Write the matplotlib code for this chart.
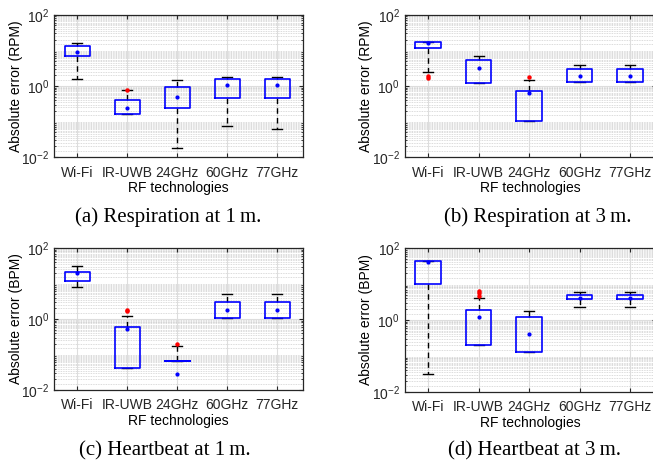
import matplotlib
matplotlib.use('Agg')
from matplotlib import pyplot as plt
from matplotlib.ticker import LogLocator, NullFormatter
import numpy as np

plt.rcParams['font.family'] = ['Liberation Sans', 'DejaVu Sans']
plt.rcParams['mathtext.default'] = 'regular'

techs = ['Wi-Fi', 'IR-UWB', '24GHz', '60GHz', '77GHz']

# per panel: whisker low, q1, mean dot, q3, whisker high, outliers
resp1_lo = [1.56, 0.168, 0.0176, 0.073, 0.062]
resp1_q1 = [7.1, 0.168, 0.247, 0.47, 0.47]
resp1_mean = [9.0, 0.24, 0.49, 1.08, 1.08]
resp1_q3 = [13.3, 0.40, 0.95, 1.58, 1.58]
resp1_hi = [15.9, 0.75, 1.46, 1.78, 1.78]
resp1_out = [[], [0.79], [], [], []]

resp3_lo = [2.4, 1.23, 0.103, 1.28, 1.28]
resp3_q1 = [11.3, 1.23, 0.103, 1.28, 1.28]
resp3_mean = [15.6, 3.1, 0.62, 1.93, 1.93]
resp3_q3 = [17.4, 5.43, 0.70, 3.04, 3.04]
resp3_hi = [17.4, 7.04, 1.43, 3.94, 3.94]
resp3_out = [[1.85, 1.70], [], [1.77], [], []]

heart1_lo = [7.76, 0.041, 0.067, 1.10, 1.10]
heart1_q1 = [12.0, 0.041, 0.067, 1.10, 1.10]
heart1_mean = [19.7, 0.51, 0.028, 1.85, 1.85]
heart1_q3 = [21.5, 0.60, 0.067, 2.92, 2.92]
heart1_hi = [30.3, 1.23, 0.175, 4.92, 4.92]
heart1_out = [[], [1.81, 1.66], [0.20], [], []]

heart3_lo = [0.032, 0.206, 0.132, 2.35, 2.35]
heart3_q1 = [9.8, 0.206, 0.132, 3.83, 3.83]
heart3_mean = [40.0, 1.21, 0.41, 4.08, 4.08]
heart3_q3 = [42.6, 1.94, 1.21, 5.06, 5.06]
heart3_hi = [44.5, 4.17, 1.74, 5.87, 5.87]
heart3_out = [[], [6.25, 5.6, 4.54], [], [], []]

panels = [
    (resp1_lo, resp1_q1, resp1_mean, resp1_q3, resp1_hi, resp1_out,
     'Absolute error (RPM)', '(a) Respiration at 1\u2009m.'),
    (resp3_lo, resp3_q1, resp3_mean, resp3_q3, resp3_hi, resp3_out,
     'Absolute error (RPM)', '(b) Respiration at 3\u2009m.'),
    (heart1_lo, heart1_q1, heart1_mean, heart1_q3, heart1_hi, heart1_out,
     'Absolute error (BPM)', '(c) Heartbeat at 1\u2009m.'),
    (heart3_lo, heart3_q1, heart3_mean, heart3_q3, heart3_hi, heart3_out,
     'Absolute error (BPM)', '(d) Heartbeat at 3\u2009m.'),
]

# axes rectangles in figure fractions
rects = [
    [0.083, 0.659, 0.381, 0.309],
    [0.620, 0.659, 0.385, 0.309],
    [0.083, 0.154, 0.381, 0.308],
    [0.620, 0.150, 0.385, 0.312],
]
cap_x = [0.258, 0.824, 0.252, 0.818]
cap_y = [0.518, 0.518, 0.011, 0.011]

fig = plt.figure(figsize=(6.53, 4.61), dpi=100)

for i, (lo, q1, mn, q3, hi, out, ylab, cap) in enumerate(panels):
    ax = fig.add_axes(rects[i])
    stats = []
    for j in range(5):
        stats.append(dict(whislo=lo[j], q1=q1[j], med=mn[j], q3=q3[j],
                          whishi=hi[j], mean=mn[j], fliers=out[j]))
    ax.bxp(stats, positions=np.arange(1, 6), widths=0.5, capwidths=0.2,
           showmeans=True, meanline=False,
           boxprops=dict(color='#0000ff', linewidth=1.2, zorder=4),
           whiskerprops=dict(color='black', linestyle=(0, (4, 3)), linewidth=1.0, zorder=2),
           capprops=dict(color='black', linewidth=1.0, zorder=2),
           medianprops=dict(linewidth=0),
           meanprops=dict(marker='o', markersize=2.0, markerfacecolor='#0000ff',
                          markeredgecolor='#0000ff', zorder=5),
           flierprops=dict(marker='o', markersize=2.2, markerfacecolor='red',
                           markeredgecolor='red', linestyle='none', zorder=5))
    ax.set_yscale('log')
    ax.set_ylim(1e-2, 1e2)
    ax.set_xlim(0.54, 5.52)
    ax.set_yticks([1e-2, 1e0, 1e2])
    ax.yaxis.set_minor_locator(LogLocator(base=10, subs=np.arange(2, 10), numticks=20))
    ax.yaxis.set_minor_formatter(NullFormatter())
    ax.set_xticks(np.arange(1, 6))
    ax.set_xticklabels(techs)
    ax.grid(True, which='major', axis='x', color='#dddddd', linewidth=0.8)
    ax.grid(True, which='major', axis='y', color='#dddddd', linewidth=0.8)
    for yv in [10.0 ** e * s for e in range(-2, 2) for s in np.arange(1, 10, 0.5) if s > 1]:
        ax.axhline(yv, color='#cfcfcf', linewidth=0.6, linestyle=(0, (1, 1)), zorder=0)
    ax.set_axisbelow(True)
    ax.tick_params(direction='in', which='both', top=True, right=True,
                   labelsize=10, colors='#262626', length=3)
    ax.tick_params(axis='x', pad=6)
    ax.tick_params(which='minor', length=1.5)
    ax.tick_params(axis='x', which='minor', bottom=False, top=False)
    for s in ax.spines.values():
        s.set_color('#262626')
        s.set_linewidth(0.9)
    ax.set_ylabel(ylab, fontsize=10, labelpad=-1)
    ax.set_xlabel('RF technologies', fontsize=10, labelpad=1)
    fig.text(cap_x[i], cap_y[i], cap, ha='center', va='baseline', fontsize=15,
             family=['Liberation Serif', 'DejaVu Serif'])

fig.savefig('out.png', dpi=100)
